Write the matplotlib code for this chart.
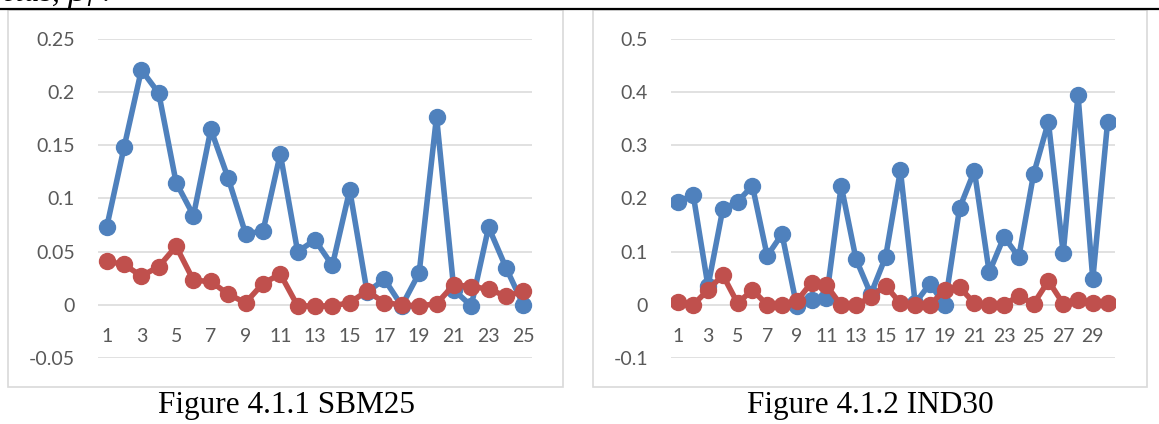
import matplotlib
matplotlib.use('Agg')
import matplotlib.pyplot as plt
from matplotlib.lines import Line2D
from matplotlib.patches import Rectangle
import numpy as np


# Betas per portfolio, SBM25 and IND30
sbm_blue = [0.073, 0.148, 0.221, 0.199, 0.115, 0.084, 0.165, 0.119, 0.067, 0.069,
            0.142, 0.050, 0.061, 0.037, 0.108, 0.012, 0.024, -0.001, 0.030, 0.177,
            0.014, -0.001, 0.073, 0.035, 0.000]
sbm_red = [0.041, 0.038, 0.027, 0.036, 0.055, 0.023, 0.022, 0.010, 0.002, 0.020,
           0.029, -0.001, -0.001, -0.001, 0.002, 0.013, 0.002, 0.000, -0.001, 0.001,
           0.019, 0.017, 0.015, 0.008, 0.013]

ind_blue = [0.194, 0.207, 0.035, 0.180, 0.194, 0.224, 0.092, 0.133, -0.003, 0.009,
            0.012, 0.224, 0.086, 0.020, 0.090, 0.253, 0.003, 0.040, -0.001, 0.182,
            0.252, 0.061, 0.128, 0.090, 0.246, 0.344, 0.097, 0.395, 0.048, 0.344]
ind_red = [0.006, 0.000, 0.028, 0.056, 0.003, 0.028, 0.000, -0.001, 0.007, 0.042,
           0.037, -0.001, -0.001, 0.015, 0.036, 0.003, -0.001, 0.000, 0.028, 0.033,
           0.003, -0.001, 0.000, 0.017, 0.002, 0.045, 0.002, 0.010, 0.003, 0.003]

sbm_yticks = [-0.05, 0, 0.05, 0.1, 0.15, 0.2, 0.25]
sbm_ylabels = ['-0.05', '0', '0.05', '0.1', '0.15', '0.2', '0.25']
ind_yticks = [-0.1, 0, 0.1, 0.2, 0.3, 0.4, 0.5]
ind_ylabels = ['-0.1', '0', '0.1', '0.2', '0.3', '0.4', '0.5']

captions = ['Figure 4.1.1 SBM25', 'Figure 4.1.2 IND30']

BLUE = '#4F81BD'
RED = '#C0504D'
GREY = '#D9D9D9'
TXT = '#595959'

W, H = 1159, 424
fig = plt.figure(figsize=(W / 100, H / 100), dpi=100)


def px(x0, y0, x1, y1):
    # pixel box (top-left origin) -> figure fraction rect
    return [x0 / W, 1 - y1 / H, (x1 - x0) / W, (y1 - y0) / H]


def draw(rect, blue, red, yticks, ylabels):
    ax = fig.add_axes(rect)
    n = len(blue)
    x = np.arange(1, n + 1)
    kw = dict(lw=4.0, marker='o', ms=11.5, solid_capstyle='round')
    ax.plot(x, blue, color=BLUE, zorder=3, **kw)
    ax.plot(x, red, color=RED, zorder=4, **kw)

    ax.set_xlim(0.5, n + 0.5)
    ax.set_ylim(yticks[0], yticks[-1])
    ax.set_yticks(yticks)
    ax.set_yticklabels(ylabels)
    ax.set_xticks(x[::2])
    ax.set_xticklabels([str(v) for v in x[::2]])

    ax.yaxis.grid(True, color=GREY, lw=1.1, zorder=0)
    ax.set_axisbelow(True)
    for s in ['left', 'right', 'top']:
        ax.spines[s].set_visible(False)
    ax.spines['bottom'].set_position(('data', 0))
    ax.spines['bottom'].set_color('none')

    ax.tick_params(axis='both', length=0, colors=TXT, labelsize=14)
    ax.tick_params(axis='x', pad=17)
    ax.tick_params(axis='y', pad=16.5)
    for lab in ax.get_xticklabels() + ax.get_yticklabels():
        lab.set_fontfamily('Lato')
    return ax


draw(px(98, 39, 532, 358), sbm_blue, sbm_red, sbm_yticks, sbm_ylabels)
draw(px(671, 39, 1115, 358), ind_blue, ind_red, ind_yticks, ind_ylabels)

# chart frames
for x0, x1 in [(8, 563), (593, 1147)]:
    fig.add_artist(Rectangle((x0 / W, 1 - 387 / H), (x1 - x0) / W, 377 / H,
                             transform=fig.transFigure, fill=False,
                             edgecolor=GREY, lw=1.2))

# rule and the heading line above the charts (runs off the top edge)
fig.add_artist(Line2D([0, 1], [1 - 8.5 / H, 1 - 8.5 / H], color='black', lw=1.6,
                      transform=fig.transFigure))
fig.text(-18 / W, 1 - 1 / H, r'Betas, $\beta_i$ :', fontsize=22.5, style='italic',
         family='Liberation Serif', va='baseline', ha='left')

for cx, cap in zip([287, 870], captions):
    fig.text(cx / W, 1 - 413 / H, cap, fontsize=22.5, family='Liberation Serif',
             ha='center', va='baseline')

fig.savefig('out.png', dpi=100)
